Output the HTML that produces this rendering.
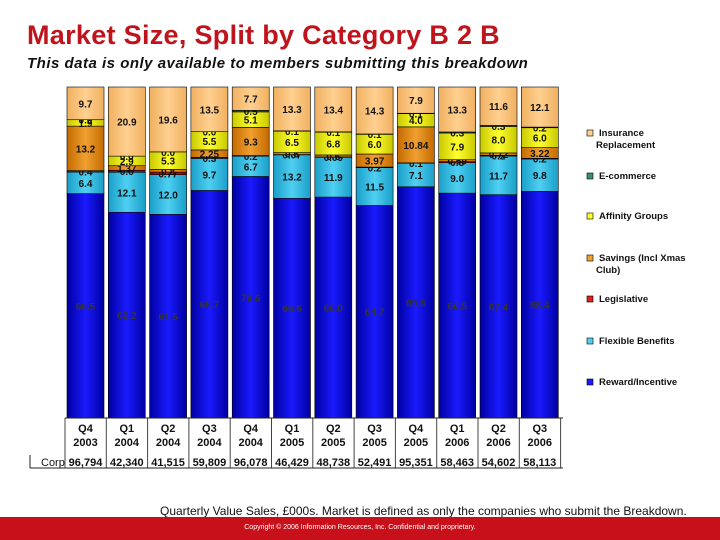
<!DOCTYPE html>
<html><head><meta charset="utf-8">
<style>
body{margin:0;width:720px;height:540px;background:#fff;font-family:"Liberation Sans",Arial,sans-serif;overflow:hidden;position:relative}
#title{position:absolute;left:27px;top:20px;font-size:27px;font-weight:bold;color:#c0141c;white-space:nowrap;letter-spacing:0.3px}
#sub{position:absolute;left:27px;top:55px;font-size:15px;font-weight:bold;font-style:italic;color:#111;white-space:nowrap;letter-spacing:0.5px}
#note{position:absolute;left:160px;top:504px;font-size:12px;color:#111;white-space:nowrap}
#footer{position:absolute;left:0;top:517px;width:720px;height:23px;background:#c8101a;color:#fff;font-size:7px;text-align:center;line-height:22px}
svg{position:absolute;left:0;top:0}
</style></head><body>
<div id="title">Market Size, Split by Category B 2 B</div>
<div id="sub">This data is only available to members submitting this breakdown</div>
<svg id="chart" width="720" height="540">
<defs></defs>
</svg>
<div id="note">Quarterly Value Sales, £000s. Market is defined as only the companies who submit the Breakdown.</div>
<div id="footer">Copyright © 2006 Information Resources, Inc. Confidential and proprietary.</div>
<script>
const quarters=["Q4","Q1","Q2","Q3","Q4","Q1","Q2","Q3","Q4","Q1","Q2","Q3"];
const years=["2003","2004","2004","2004","2004","2005","2005","2005","2005","2006","2006","2006"];
const corp=["96,794","42,340","41,515","59,809","96,078","46,429","48,738","52,491","95,351","58,463","54,602","58,113"];
const reward=[66.5,62.2,61.5,68.7,79.6,66.6,66.0,64.7,69.6,66.5,67.4,68.4];
const flexible=[6.4,12.1,12.0,9.7,6.7,13.2,11.9,11.5,7.1,9.0,11.7,9.8];
const legislative=[0.4,0.6,0.77,0.3,0.2,0.07,0.09,0.2,0.1,0.3,0.2,0.2];
const savings=[13.2,1.37,0.8,2.25,9.3,0.6,0.6,3.97,10.84,0.59,0.72,3.22];
const affinity=[1.9,2.9,5.3,5.5,5.1,6.5,6.8,6.0,4.0,7.9,8.0,6.0];
const ecommerce=[0.0,0.0,0.0,0.0,0.5,0.1,0.1,0.1,0.1,0.3,0.3,0.2];
const insurance=[9.7,20.9,19.6,13.5,7.7,13.3,13.4,14.3,7.9,13.3,11.6,12.1];
const seriesNames=["Reward/Incentive","Flexible Benefits","Legislative","Savings (Incl Xmas Club)","Affinity Groups","E-commerce","Insurance Replacement"];
const seriesData=[reward,flexible,legislative,savings,affinity,ecommerce,insurance];
const colors=[["#0000a0","#1a1aff"],["#1a9ec8","#4fd0f2"],["#900000","#e02020"],["#c46a00","#f0a030"],["#c8c800","#ffff30"],["#1f6a50","#3a8f70"],["#f0b060","#ffd090"]];
const svg=document.getElementById('chart');const NS="http://www.w3.org/2000/svg";
const defs=svg.querySelector('defs');
colors.forEach((c,i)=>{const g=document.createElementNS(NS,'linearGradient');g.id='g'+i;
g.innerHTML=`<stop offset="0" stop-color="${c[0]}"/><stop offset="0.5" stop-color="${c[1]}"/><stop offset="1" stop-color="${c[0]}"/>`;defs.appendChild(g);});
const plotTop=87,plotBottom=418,x0=67,pitch=41.3,bw=37;
function xPos(i){return x0+i*pitch;}
function yScale(frac){return plotBottom-frac*(plotBottom-plotTop);}
function fmt(v){const s=String(v);return s.indexOf('.')<0?v.toFixed(1):s;}
function el(t,a){const e=document.createElementNS(NS,t);for(const k in a)e.setAttribute(k,a[k]);svg.appendChild(e);return e;}
for(let i=0;i<quarters.length;i++){
  let total=0;seriesData.forEach(s=>total+=s[i]);
  let cum=0;
  seriesData.forEach((s,k)=>{
    const y1=yScale(cum/total),y2=yScale((cum+s[i])/total);cum+=s[i];
    const r=el('rect',{x:xPos(i),y:y2,width:bw,height:Math.max(0,y1-y2),fill:`url(#g${k})`,stroke:'#000','stroke-width':0.6});
    
    
    const t=el('text',{x:xPos(i)+bw/2,y:(y1+y2)/2+4,'text-anchor':'middle','font-size':10,'font-weight':'bold',fill:k==0?'#333':'#111'});
    t.textContent=fmt(s[i]);
    
    
  });
  const q=el('text',{x:xPos(i)+bw/2,y:432,'text-anchor':'middle','font-size':11,'font-weight':'bold',fill:'#111'});q.textContent=quarters[i];
  
  
  const yy=el('text',{x:xPos(i)+bw/2,y:446,'text-anchor':'middle','font-size':11,'font-weight':'bold',fill:'#111'});yy.textContent=years[i];
  
  
  const c=el('text',{x:xPos(i)+bw/2,y:466,'text-anchor':'middle','font-size':11,'font-weight':'bold',fill:'#111'});c.textContent=corp[i];
  
  
}
for(let i=0;i<=quarters.length;i++){const x=xPos(i)-2;el('line',{x1:x,y1:418,x2:x,y2:468,stroke:'#444','stroke-width':1});}
el('line',{x1:65,y1:418,x2:563,y2:418,stroke:'#222','stroke-width':1});
el('line',{x1:30,y1:468,x2:563,y2:468,stroke:'#222','stroke-width':1});
el('line',{x1:30,y1:455,x2:30,y2:468,stroke:'#222','stroke-width':1});
const cl=el('text',{x:41,y:466,'font-size':11,fill:'#111'});cl.textContent='Corp';


const legY=[136,179,219,261,302,344,385];
const order=[6,5,4,3,2,1,0];
const legText=[["Insurance","Replacement"],["E-commerce"],["Affinity Groups"],["Savings (Incl Xmas","Club)"],["Legislative"],["Flexible Benefits"],["Reward/Incentive"]];
order.forEach((k,j)=>{
  const r=el('rect',{x:587,y:legY[j]-6,width:6,height:6,fill:colors[k][1],stroke:'#000','stroke-width':0.6});
  
  
  legText[j].forEach((s,m)=>{const t=el('text',{x:m?596:599,y:legY[j]+m*12,'font-size':9.5,'font-weight':'bold',fill:'#111'});t.textContent=s;
  
  });
});
</script>
</body></html>
